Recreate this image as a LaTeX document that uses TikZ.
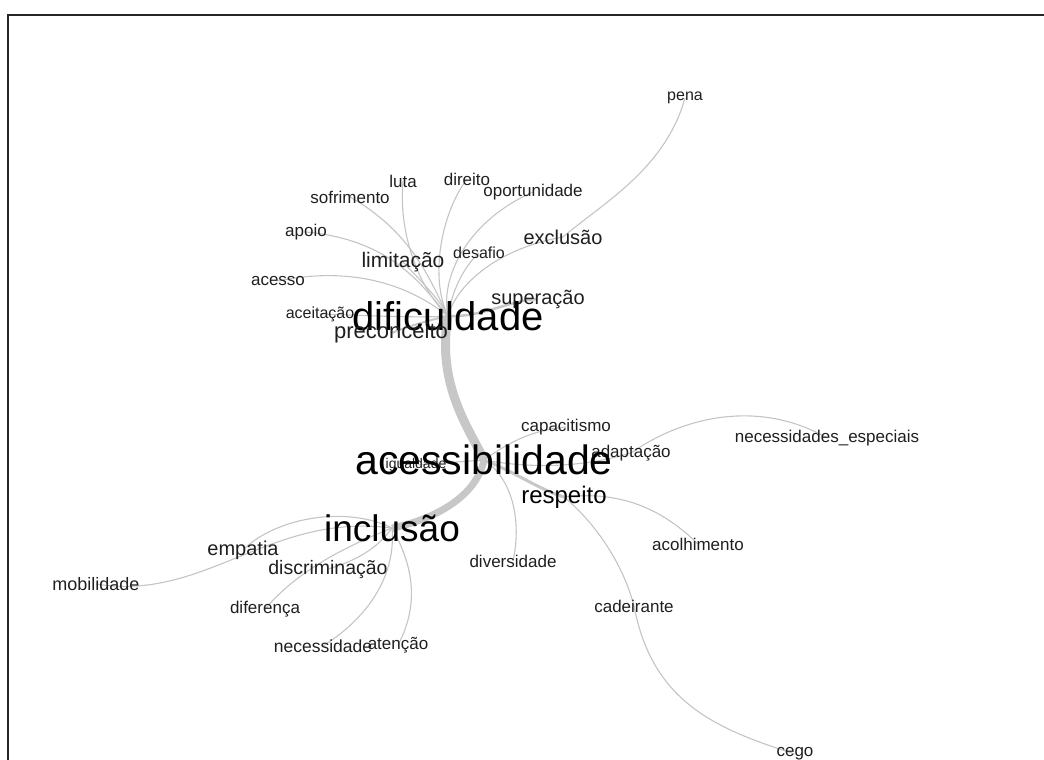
\documentclass[tikz,border=0pt]{standalone}
\usepackage{fontspec}
\setmainfont{Liberation Sans}
\pgfdeclarelayer{bg}
\pgfsetlayers{bg,main}
\tikzset{
  lbl/.style={inner sep=0pt, text=black!88, font=\fontsize{#1}{#1}\selectfont},
  big/.style={inner sep=0pt, text=black, font=\fontsize{#1}{#1}\selectfont},
  edgethin/.style={draw=black!23, line width=1.1pt},
  edgethick/.style={draw=black!22, line width=#1},
  frameline/.style={draw=black!85, line width=2.5pt}
}
\begin{document}
\begin{tikzpicture}[x=1pt,y=-1pt]
\useasboundingbox (0,0) rectangle (1044,760);
\coordinate (ftr) at (1044,15);
\coordinate (ftl) at (8,15);
\coordinate (fbl) at (8,760);
\draw[frameline] (ftr) -- (ftl) -- (fbl);

% nodes
\node[lbl=16] (pena) at (685,98) {pena};
\node[lbl=17] (luta) at (403,181) {luta};
\node[lbl=17] (direito) at (467,179) {direito};
\node[lbl=17] (oportunidade) at (533,192) {oportunidade};
\node[lbl=17] (sofrimento) at (350,197) {sofrimento};
\node[lbl=17] (apoio) at (306,232) {apoio};
\node[lbl=20] (exclusao) at (563,237) {exclusão};
\node[lbl=16] (desafio) at (479,253) {desafio};
\node[lbl=21] (limitacao) at (403,262) {limitação};
\node[lbl=17] (acesso) at (278,281) {acesso};
\node[lbl=20] (superacao) at (538,299) {superação};
\node[lbl=16] (aceitacao) at (320,314) {aceitação};
\node[big=40] (dificuldade) at (448,316) {dificuldade};
\node[lbl=22] (preconceito) at (391,333) {preconceito};
\node[lbl=17] (capacitismo) at (566,427) {capacitismo};
\node[lbl=17] (necesp) at (827,438) {necessidades\_especiais};
\node[lbl=17] (adaptacao) at (631,453) {adaptação};
\node[lbl=14] (igualdade) at (416,465) {igualdade};
\node[big=41] (acessibilidade) at (484,460) {acessibilidade};
\node[lbl=24,text=black] (respeito) at (564,497) {respeito};
\node[big=37] (inclusao) at (392,528) {inclusão};
\node[lbl=20] (empatia) at (243,550) {empatia};
\node[lbl=17] (acolhimento) at (698,544) {acolhimento};
\node[lbl=17] (diversidade) at (513,561) {diversidade};
\node[lbl=19.5] (discriminacao) at (328,569) {discriminação};
\node[lbl=18] (mobilidade) at (96,584) {mobilidade};
\node[lbl=17] (cadeirante) at (634,606) {cadeirante};
\node[lbl=17] (diferenca) at (265,609) {diferença};
\node[lbl=17.5] (necessidade) at (323,646) {necessidade};
\node[lbl=17] (atencao) at (398,645) {atenção};
\node[lbl=17] (cego) at (795,754) {cego};

\begin{pgfonlayer}{bg}
% thick trunk
\draw[edgethick=9pt] (dificuldade.center) .. controls (436,385) and (470,430) .. (acessibilidade.center);
\draw[edgethick=7pt] (acessibilidade.center) .. controls (476,498) and (432,520) .. (inclusao.center);
\draw[edgethick=3pt] (acessibilidade.center) .. controls (515,472) and (540,490) .. (respeito.center);
\draw[edgethick=2.5pt] (dificuldade.center) .. controls (480,318) and (510,300) .. (superacao.center);
\draw[edgethick=2pt] (dificuldade.center) .. controls (420,322) and (400,330) .. (preconceito.center);
% dificuldade
\draw[edgethin] (luta.center) .. controls (398,235) and (420,290) .. (dificuldade.center);
\draw[edgethin] (direito.center) .. controls (440,215) and (430,280) .. (dificuldade.center);
\draw[edgethin] (oportunidade.center) .. controls (465,222) and (440,280) .. (dificuldade.center);
\draw[edgethin] (sofrimento.center) .. controls (412,232) and (430,280) .. (dificuldade.center);
\draw[edgethin] (apoio.center) .. controls (395,240) and (425,290) .. (dificuldade.center);
\draw[edgethin] (acesso.center) .. controls (370,262) and (425,298) .. (dificuldade.center);
\draw[edgethin] (limitacao.center) .. controls (420,280) and (440,300) .. (dificuldade.center);
\draw[edgethin] (desafio.center) .. controls (460,270) and (450,300) .. (dificuldade.center);
\draw[edgethin] (exclusao.center) .. controls (490,250) and (455,290) .. (dificuldade.center);
\draw[edgethin] (pena.center) .. controls (665,170) and (600,205) .. (exclusao.center);
\draw[edgethin] (aceitacao.center) .. controls (380,316) and (420,318) .. (dificuldade.center);
% acessibilidade
\draw[edgethin] (capacitismo.center) .. controls (530,430) and (505,445) .. (acessibilidade.center);
\draw[edgethin] (acessibilidade.center) .. controls (550,472) and (600,462) .. (adaptacao.center);
\draw[edgethin] (adaptacao.center) .. controls (690,412) and (765,402) .. (necesp.center);
\draw[edgethin] (diversidade.center) .. controls (522,520) and (512,478) .. (acessibilidade.center);
\draw[edgethin] (igualdade.center) -- (acessibilidade.center);
\draw[edgethin] (respeito.center) .. controls (625,490) and (665,512) .. (acolhimento.center);
\draw[edgethin] (respeito.center) .. controls (592,520) and (622,560) .. (cadeirante.center);
\draw[edgethin] (cadeirante.center) .. controls (652,700) and (712,728) .. (cego.center);
% inclusao
\draw[edgethin] (empatia.center) .. controls (275,518) and (345,505) .. (inclusao.center);
\draw[edgethin] (mobilidade.center) .. controls (205,602) and (270,512) .. (inclusao.center);
\draw[edgethin] (discriminacao.center) .. controls (360,560) and (380,545) .. (inclusao.center);
\draw[edgethin] (diferenca.center) .. controls (300,568) and (350,545) .. (inclusao.center);
\draw[edgethin] (necessidade.center) .. controls (372,615) and (396,572) .. (inclusao.center);
\draw[edgethin] (atencao.center) .. controls (422,600) and (410,560) .. (inclusao.center);
\end{pgfonlayer}
\end{tikzpicture}
\end{document}
